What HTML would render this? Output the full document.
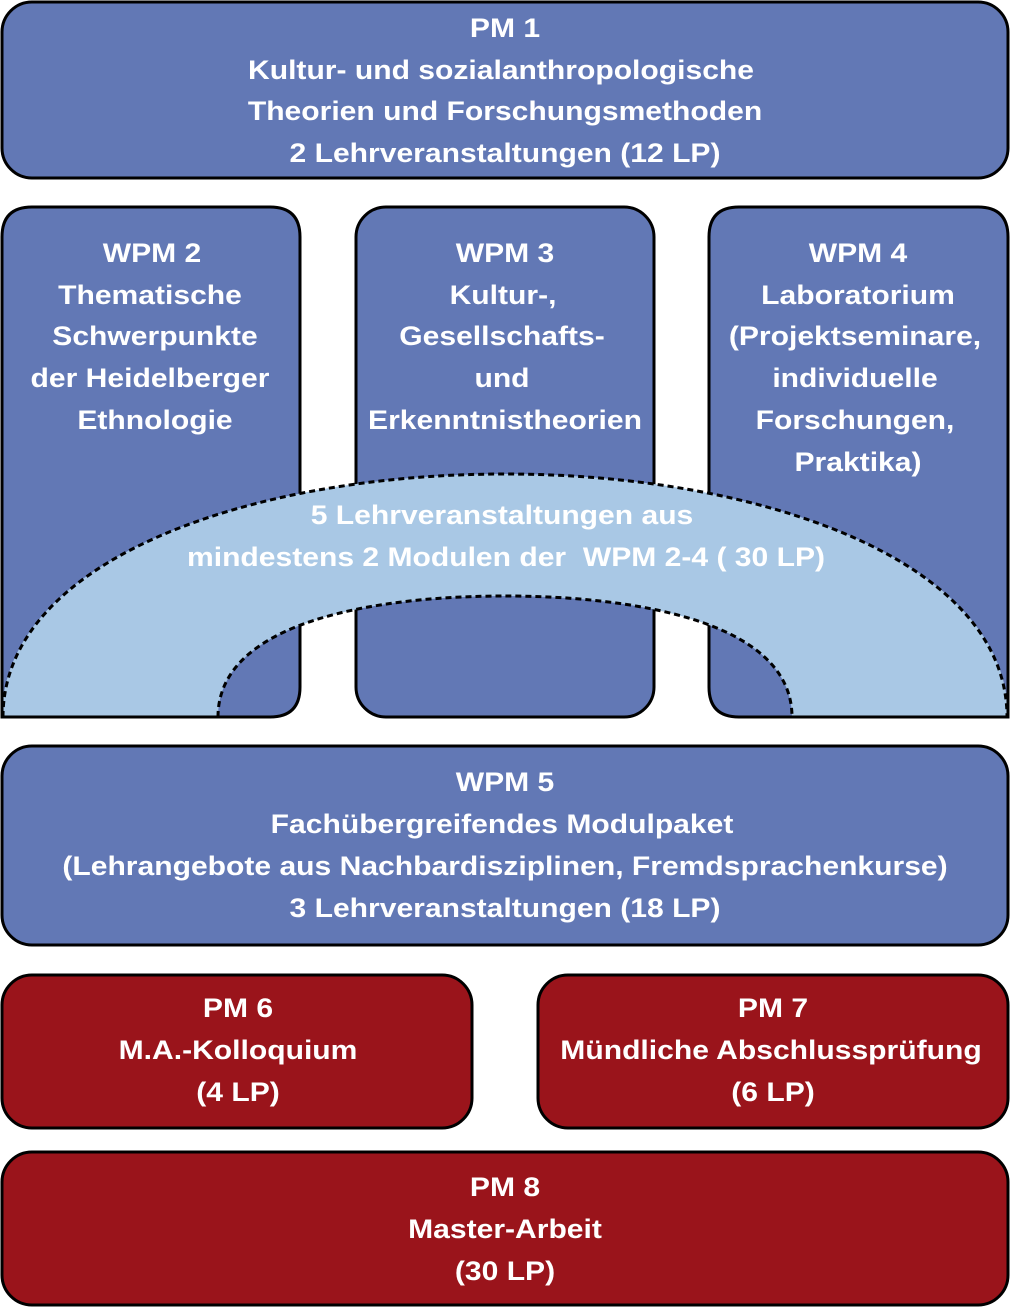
<!DOCTYPE html>
<html>
<head>
<meta charset="utf-8">
<style>
  html, body { margin: 0; padding: 0; background: #ffffff; }
  svg { display: block; }
  text { font-family: "Liberation Sans", Arial, sans-serif; font-weight: bold; font-size: 26.5px; fill: #ffffff; text-anchor: middle; }
</style>
</head>
<body>
<svg width="1016" height="1308" viewBox="0 0 1016 1308" xmlns="http://www.w3.org/2000/svg">
  <!-- PM 1 -->
  <rect x="2" y="2" width="1006" height="176" rx="30" ry="30" fill="#6278B5" stroke="#000" stroke-width="3"/>
  <text transform="translate(505 37) scale(1.135 1)">PM 1</text>
  <text transform="translate(501 79) scale(1.135 1)">Kultur- und sozialanthropologische</text>
  <text transform="translate(505 120) scale(1.135 1)">Theorien und Forschungsmethoden</text>
  <text transform="translate(505 162) scale(1.135 1)">2 Lehrveranstaltungen (12 LP)</text>

  <!-- WPM 2 (square bottom-left) -->
  <path d="M2,717 L2,237 Q2,207 32,207 L270,207 Q300,207 300,237 L300,687 Q300,717 270,717 Z" fill="#6278B5" stroke="#000" stroke-width="3"/>
  <!-- WPM 3 -->
  <rect x="356" y="207" width="298" height="510" rx="30" ry="30" fill="#6278B5" stroke="#000" stroke-width="3"/>
  <!-- WPM 4 (square bottom-right) -->
  <path d="M1008,717 L1008,237 Q1008,207 978,207 L739,207 Q709,207 709,237 L709,687 Q709,717 739,717 Z" fill="#6278B5" stroke="#000" stroke-width="3"/>

  <text transform="translate(152 262) scale(1.135 1)">WPM 2</text>
  <text transform="translate(150 304) scale(1.135 1)">Thematische</text>
  <text transform="translate(155 345) scale(1.135 1)">Schwerpunkte</text>
  <text transform="translate(150 387) scale(1.135 1)">der Heidelberger</text>
  <text transform="translate(155 429) scale(1.135 1)">Ethnologie</text>

  <text transform="translate(505 262) scale(1.135 1)">WPM 3</text>
  <text transform="translate(503 304) scale(1.135 1)">Kultur-,</text>
  <text transform="translate(502 345) scale(1.135 1)">Gesellschafts-</text>
  <text transform="translate(502 387) scale(1.135 1)">und</text>
  <text transform="translate(505 429) scale(1.135 1)">Erkenntnistheorien</text>

  <text transform="translate(858 262) scale(1.135 1)">WPM 4</text>
  <text transform="translate(858 304) scale(1.135 1)">Laboratorium</text>
  <text transform="translate(855 345) scale(1.135 1)">(Projektseminare,</text>
  <text transform="translate(855 387) scale(1.135 1)">individuelle</text>
  <text transform="translate(855 429) scale(1.135 1)">Forschungen,</text>
  <text transform="translate(858 471) scale(1.135 1)">Praktika)</text>

  <!-- Arch -->
  <path d="M2,717 C2,560 250,474 505,474 C760,474 1008,560 1008,717 L792,717 C792,620 630,596 505,596 C380,596 218,620 218,717 Z" fill="#A9C8E5"/>
  <path d="M3,717 C3,560 250,474 505,474 C760,474 1007,560 1007,717" fill="none" stroke="#000" stroke-width="3" stroke-dasharray="6 4"/>
  <path d="M218,717 C218,620 380,596 505,596 C630,596 792,620 792,717" fill="none" stroke="#000" stroke-width="3" stroke-dasharray="6 4"/>
  <line x1="0.5" y1="717" x2="219" y2="717" stroke="#000" stroke-width="3"/>
  <line x1="791" y1="717" x2="1009.5" y2="717" stroke="#000" stroke-width="3"/>
  <line x1="2" y1="660" x2="2" y2="718.5" stroke="#000" stroke-width="3"/>
  <line x1="1008" y1="660" x2="1008" y2="718.5" stroke="#000" stroke-width="3"/>

  <text transform="translate(502 524) scale(1.135 1)">5 Lehrveranstaltungen aus</text>
  <text transform="translate(506 566) scale(1.135 1)" xml:space="preserve">mindestens 2 Modulen der  WPM 2-4 ( 30 LP)</text>

  <!-- WPM 5 -->
  <rect x="2" y="746" width="1006" height="199" rx="30" ry="30" fill="#6278B5" stroke="#000" stroke-width="3"/>
  <text transform="translate(505 791) scale(1.135 1)">WPM 5</text>
  <text transform="translate(502 833) scale(1.135 1)">Fachübergreifendes Modulpaket</text>
  <text transform="translate(505 875) scale(1.135 1)">(Lehrangebote aus Nachbardisziplinen, Fremdsprachenkurse)</text>
  <text transform="translate(505 917) scale(1.135 1)">3 Lehrveranstaltungen (18 LP)</text>

  <!-- PM 6 -->
  <rect x="2" y="975" width="470" height="153" rx="30" ry="30" fill="#9A141B" stroke="#000" stroke-width="3"/>
  <text transform="translate(238 1017) scale(1.135 1)">PM 6</text>
  <text transform="translate(238 1059) scale(1.135 1)">M.A.-Kolloquium</text>
  <text transform="translate(238 1101) scale(1.135 1)">(4 LP)</text>

  <!-- PM 7 -->
  <rect x="538" y="975" width="470" height="153" rx="30" ry="30" fill="#9A141B" stroke="#000" stroke-width="3"/>
  <text transform="translate(773 1017) scale(1.135 1)">PM 7</text>
  <text transform="translate(771 1059) scale(1.135 1)">Mündliche Abschlussprüfung</text>
  <text transform="translate(773 1101) scale(1.135 1)">(6 LP)</text>

  <!-- PM 8 -->
  <rect x="2" y="1152" width="1006" height="153" rx="30" ry="30" fill="#9A141B" stroke="#000" stroke-width="3"/>
  <text transform="translate(505 1196) scale(1.135 1)">PM 8</text>
  <text transform="translate(505 1238) scale(1.135 1)">Master-Arbeit</text>
  <text transform="translate(505 1280) scale(1.135 1)">(30 LP)</text>
</svg>
</body>
</html>
